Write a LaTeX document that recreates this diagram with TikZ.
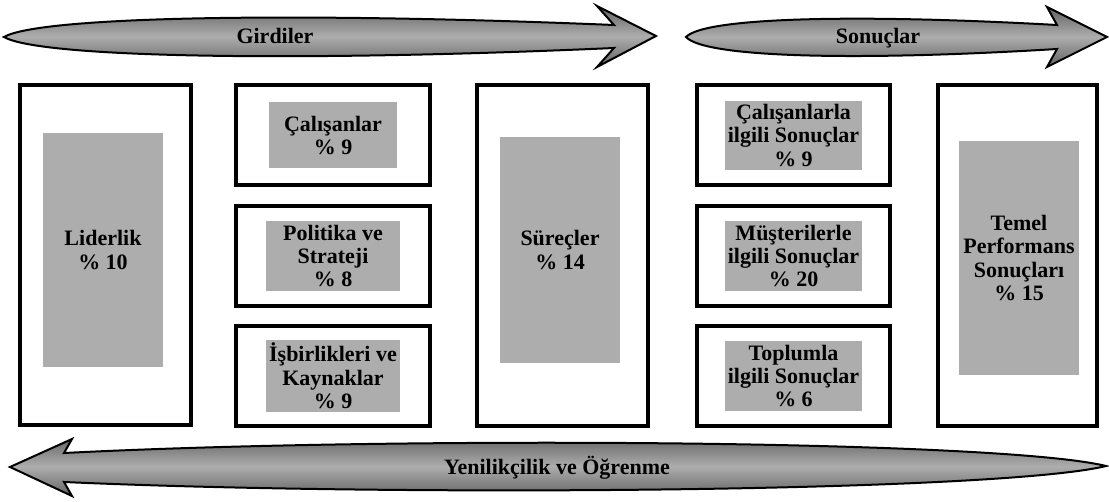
\documentclass[tikz,border=0pt]{standalone}
\usepackage{fontspec}
\setmainfont{Liberation Serif}

\tikzset{every picture/.style={line width=0.75pt}}
\tikzset{
  frame/.style={draw, line width=3pt, inner sep=0pt},
  tallbox/.style={frame, minimum width=128pt, minimum height=255pt},
  widebox/.style={frame, minimum width=145pt, minimum height=75pt},
  grain/.style={fill=black!32, inner sep=2pt, align=center, font=\bfseries\fontsize{16.5}{17.6}\selectfont},
  band/.style={draw=black, line width=1.5pt, top color=black!62, bottom color=black!62, middle color=black!32},
  bandtext/.style={inner sep=0.75pt, anchor=base, font=\bfseries\fontsize{16.5}{18}\selectfont}
}

\begin{document}
\begin{tikzpicture}[x=0.75pt,y=0.75pt,yscale=-1,xscale=1]
\path[use as bounding box] (0,0) rectangle (1109,502);

%Shape: Arrow [Girdiler]
\draw [band] (4,37) .. controls (40,16) and (300,12) .. (614,25) -- (597,6) -- (656,36) -- (597,67) -- (614,48) .. controls (300,62) and (40,58) .. (4,37) -- cycle ;
%Shape: Arrow [Sonuclar]
\draw [band] (686,37) .. controls (705,17) and (860,14) .. (1057,25) -- (1047,7) -- (1107,37) -- (1047,67) -- (1057,49) .. controls (860,61) and (705,58) .. (686,37) -- cycle ;
%Shape: Arrow [Yenilikcilik]
\draw [band] (10,467) -- (72,439) -- (64,453) .. controls (400,436) and (1000,440) .. (1106,466) .. controls (1000,492) and (400,497) .. (64,482) -- (72,496) -- cycle ;

% Text Node
\node [bandtext] (gir) at (275,44) {Girdiler};
% Text Node
\node [bandtext] (son) at (878,44) {Sonuçlar};
% Text Node
\node [bandtext] (yen) at (557,474) {Yenilikçilik ve Öğrenme};

%Boxes
\node [tallbox] (lid) at (105.5,255) {};
\node [widebox] (cal) at (333,135.5) {};
\node [widebox] (pol) at (333,256) {};
\node [widebox] (isb) at (333,376) {};
\node [tallbox] (sur) at (562.5,255.5) {};
\node [widebox] (cls) at (793.5,135.5) {};
\node [widebox] (mus) at (793.5,256) {};
\node [widebox] (tpl) at (793.5,376) {};
\node [tallbox, minimum width=119pt] (tpr) at (1017.5,255.5) {};

%Shaded labels
\node [grain, minimum width=90pt, minimum height=175pt] (lidx) at (103,250) {Liderlik\\\% 10};
\node [grain, minimum width=96pt, minimum height=49.5pt] (calx) at (cal) {Çalışanlar\\\% 9};
\node [grain, minimum width=100pt, minimum height=52pt] (polx) at (pol) {Politika ve\\Strateji\\\% 8};
\node [grain, minimum width=100pt, minimum height=50pt] (isbx) at (isb) {İşbirlikleri ve\\Kaynaklar\\\% 9};
\node [grain, minimum width=90pt, minimum height=170pt] (surx) at (560,250) {Süreçler\\\% 14};
\node [grain, minimum width=100pt, minimum height=52pt] (clsx) at (cls) {Çalışanlarla\\ilgili Sonuçlar\\\% 9};
\node [grain, minimum width=100pt, minimum height=52pt] (musx) at (mus) {Müşterilerle\\ilgili Sonuçlar\\\% 20};
\node [grain, minimum width=100pt, minimum height=52pt] (tplx) at (tpl) {Toplumla\\ilgili Sonuçlar\\\% 6};
\node [grain, minimum width=90pt, minimum height=176pt] (tprx) at (1019,258) {Temel\\Performans\\Sonuçları\\\% 15};
\end{tikzpicture}
\end{document}
